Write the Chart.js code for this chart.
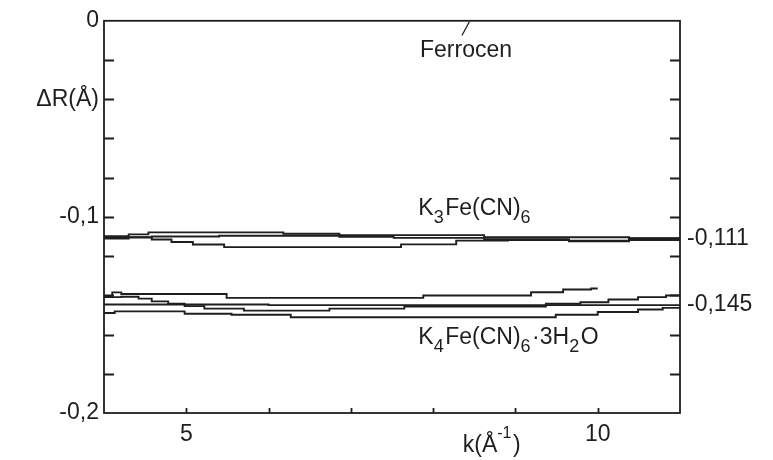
<!DOCTYPE html>
<html>
<head>
<meta charset="utf-8">
<script src="https://cdn.jsdelivr.net/npm/chart.js@4.4.1/dist/chart.umd.min.js"></script>
<style>
  html, body { margin: 0; padding: 0; background: #ffffff; }
  #c { display: block; }
</style>
</head>
<body>
<canvas id="c" width="773" height="460"></canvas>
<script>
// ---- data: k in 1/Angstrom, Delta R in Angstrom (step breakpoints) ----
const k3A_k  = [4.0, 4.30, 4.54, 6.18, 6.86, 8.62, 10.38, 11.0];
const k3A_dr = [-0.1099, -0.1089, -0.1079, -0.1086, -0.1093, -0.1104, -0.1108, -0.1108];

const k3B_k  = [4.0, 4.58, 5.40, 6.86, 7.52, 8.62, 9.65, 10.38, 11.0];
const k3B_dr = [-0.1105, -0.1100, -0.1096, -0.1101, -0.1107, -0.1114, -0.1122, -0.1110, -0.1110];

const k3C_k  = [4.0, 4.30, 4.58, 4.82, 5.08, 5.46, 7.61, 8.28, 8.91, 9.65, 10.38, 11.0];
const k3C_dr = [-0.1111, -0.1103, -0.1115, -0.1128, -0.1141, -0.1154, -0.1140, -0.1121, -0.1118, -0.1124, -0.1118, -0.1118];

const k4A_k  = [4.0, 4.10, 4.21, 5.49, 7.88, 9.19, 9.58, 9.92, 10.0];
const k4A_dr = [-0.1405, -0.1385, -0.1393, -0.1413, -0.1401, -0.1384, -0.1370, -0.1365, -0.1365];

const k4B_k  = [4.0, 4.21, 4.42, 4.58, 4.78, 4.98, 5.22, 5.70, 6.74, 7.65, 9.37, 9.79, 10.13, 10.49, 10.83, 11.0];
const k4B_dr = [-0.1409, -0.1407, -0.1417, -0.1431, -0.1443, -0.1455, -0.1468, -0.1478, -0.1468, -0.1457, -0.1443, -0.1435, -0.1421, -0.1409, -0.1401, -0.1401];

const k4C_k  = [4.0, 6.0, 11.0];
const k4C_dr = [-0.1447, -0.1450, -0.1450];

const k4D_k  = [4.0, 4.13, 4.98, 5.55, 6.27, 9.49, 10.0, 10.49, 10.79, 11.0];
const k4D_dr = [-0.1490, -0.1482, -0.1494, -0.1499, -0.1512, -0.1499, -0.1485, -0.1472, -0.1464, -0.1464];

const ferrocenK  = [8.35, 8.44];
const ferrocenDR = [-0.0075, -0.0005];

// ---- axis ticks and labels ----
const xTickValues   = [5, 6, 7, 8, 9, 10];
const xLabelValues  = [5, 10];
const yTickValues   = [-0.02, -0.04, -0.06, -0.08, -0.10, -0.12, -0.14, -0.16, -0.18];
const yLabelValues  = [0, -0.04, -0.1, -0.2];
const yLabelTexts   = ["0", "ΔR(Å)", "-0,1", "-0,2"];
const rightLabelValues = [-0.111, -0.145];
const rightLabelTexts  = ["-0,111", "-0,145"];

// ---- text placed in the plot (anchor = left end of baseline) ----
const notes = [
  { k: 7.84, dr: -0.0187, parts: [["Ferrocen", ""]] },
  { k: 7.82, dr: -0.0989, parts: [["K", ""], ["3", "sub"], ["Fe(CN)", ""], ["6", "sub"]] },
  { k: 7.82, dr: -0.1646, parts: [["K", ""], ["4", "sub"], ["Fe(CN)", ""], ["6", "sub"], ["·3H", ""], ["2", "sub"], ["O", ""]] },
  { k: 8.36, dr: -0.2197, parts: [["k(Å", ""], ["-1", "sup"], [")", ""]] }
];

const INK = '#1e1e1e';
const FONT = 'Liberation Sans';

function toPoints(ks, drs) { return ks.map((k, i) => ({ x: k, y: drs[i] })); }

function stepLine(ks, drs) {
  return {
    data: toPoints(ks, drs),
    showLine: true,
    stepped: 'before',
    borderColor: INK,
    borderWidth: 1.9,
    pointRadius: 0,
    fill: false
  };
}

const frameAndNotes = {
  id: 'frameAndNotes',
  afterDatasetsDraw(chart) {
    const { ctx, chartArea: a, scales } = chart;
    const xs = scales.x, ys = scales.y;
    ctx.save();
    ctx.strokeStyle = INK;
    ctx.lineWidth = 1.8;
    ctx.strokeRect(a.left, a.top, a.right - a.left, a.bottom - a.top);
    // inward ticks on left and right edges
    ctx.beginPath();
    yTickValues.forEach(v => {
      const py = Math.round(ys.getPixelForValue(v)) + 0.5;
      ctx.moveTo(a.left, py); ctx.lineTo(a.left + 10, py);
      ctx.moveTo(a.right, py); ctx.lineTo(a.right - 10, py);
    });
    // short inward ticks on the bottom edge
    xTickValues.forEach(v => {
      const px = Math.round(xs.getPixelForValue(v)) + 0.5;
      ctx.moveTo(px, a.bottom); ctx.lineTo(px, a.bottom - 5);
    });
    ctx.stroke();

    // labels with sub- and superscripts
    ctx.fillStyle = INK;
    ctx.textBaseline = 'alphabetic';
    ctx.textAlign = 'left';
    notes.forEach(n => {
      let x = xs.getPixelForValue(n.k);
      const base = ys.getPixelForValue(n.dr);
      n.parts.forEach(([t, mode]) => {
        let dy = 0;
        if (mode === 'sub') { ctx.font = '18px "' + FONT + '"'; dy = 8; }
        else if (mode === 'sup') { ctx.font = '16px "' + FONT + '"'; dy = -14; }
        else { ctx.font = '23px "' + FONT + '"'; }
        ctx.fillText(t, x, base + dy);
        x += ctx.measureText(t).width + (mode ? 1.5 : 0);
      });
    });
    ctx.restore();
  }
};

Chart.defaults.font.family = FONT;
Chart.defaults.color = INK;

new Chart(document.getElementById('c'), {
  type: 'scatter',
  data: {
    datasets: [
      stepLine(k3A_k, k3A_dr),
      stepLine(k3B_k, k3B_dr),
      stepLine(k3C_k, k3C_dr),
      stepLine(k4A_k, k4A_dr),
      stepLine(k4B_k, k4B_dr),
      stepLine(k4C_k, k4C_dr),
      stepLine(k4D_k, k4D_dr),
      {
        data: toPoints(ferrocenK, ferrocenDR),
        showLine: true,
        borderColor: INK,
        borderWidth: 1.3,
        pointRadius: 0
      }
    ]
  },
  options: {
    responsive: false,
    animation: false,
    devicePixelRatio: 1,
    layout: { padding: { top: 18, left: 0, right: 0, bottom: 0 } },
    plugins: { legend: { display: false }, tooltip: { enabled: false } },
    scales: {
      x: {
        type: 'linear', position: 'bottom', min: 4, max: 11,
        afterFit(s) { s.height = 47; },
        grid: { display: false, drawTicks: false },
        border: { display: false },
        ticks: {
          stepSize: 1, autoSkip: false, maxRotation: 0, padding: 8,
          font: { size: 23 }, color: INK,
          callback(v) { return xLabelValues.includes(v) ? String(v) : ''; }
        }
      },
      y: {
        type: 'linear', position: 'left', min: -0.2, max: 0,
        afterFit(s) { s.width = 104; },
        grid: { display: false, drawTicks: false },
        border: { display: false },
        ticks: {
          stepSize: 0.02, autoSkip: false, padding: 5,
          font: { size: 23 }, color: INK,
          callback(v) {
            const i = yLabelValues.findIndex(t => Math.abs(t - v) < 1e-9);
            return i >= 0 ? yLabelTexts[i] : '';
          }
        }
      },
      y2: {
        type: 'linear', position: 'right', min: -0.2, max: 0,
        afterFit(s) { s.width = 93; },
        afterBuildTicks(s) { s.ticks = rightLabelValues.map(v => ({ value: v })); },
        grid: { display: false, drawTicks: false },
        border: { display: false },
        ticks: {
          autoSkip: false, padding: 7,
          font: { size: 23 }, color: INK,
          callback(v) {
            const i = rightLabelValues.findIndex(t => Math.abs(t - v) < 1e-9);
            return i >= 0 ? rightLabelTexts[i] : '';
          }
        }
      }
    }
  },
  plugins: [frameAndNotes]
});
</script>
</body>
</html>
